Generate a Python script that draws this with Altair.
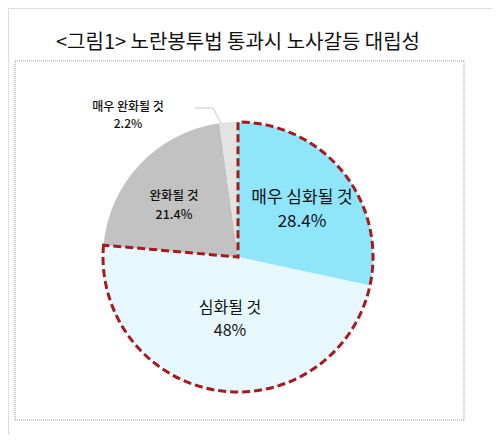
import altair as alt
import pandas as pd

TITLE = "<그림1> 노란봉투법 통과시 노사갈등 대립성"
categories = ["매우 심화될 것", "심화될 것", "완화될 것", "매우 완화될 것"]
values = [28.4, 48.0, 21.4, 2.2]
pct_labels = ["28.4%", "48%", "21.4%", "2.2%"]
colors = ["#8FE6FB", "#E6F8FE", "#C2C2C2", "#E3E3E3"]
groups = ["심화", "심화", "완화", "완화"]

FONT = "Noto Sans CJK KR"
CX, CY, R = 230, 249, 135

df = pd.DataFrame({"cat": categories, "value": values, "order": range(len(values)), "group": groups})
gdf = df.groupby("group", sort=False, as_index=False)["value"].sum()
gdf["order"] = range(len(gdf))

base = alt.Chart(df)
pie = base.mark_arc(radius=R, stroke=None).encode(
    theta=alt.Theta("value:Q", stack=True),
    order=alt.Order("order:Q"),
    color=alt.Color("cat:N", scale=alt.Scale(domain=categories, range=colors), legend=None),
    x=alt.value(CX), y=alt.value(CY),
)

outline = alt.Chart(gdf).mark_arc(radius=R, fillOpacity=0, strokeWidth=3, strokeDash=[8, 4]).encode(
    theta=alt.Theta("value:Q", stack=True),
    order=alt.Order("order:Q"),
    stroke=alt.Stroke("group:N", scale=alt.Scale(domain=["심화", "완화"], range=["#A31A1F", "transparent"]), legend=None),
    x=alt.value(CX), y=alt.value(CY),
)

# label positions (layout), text from data
label_pos = [
    (294, 190, 214, 17, "#111111"),  # 매우 심화될 것
    (222, 300, 323, 16, "#111111"),  # 심화될 것
    (166, 188, 207, 12.5, "#111111"),  # 완화될 것
    (120, 99, 116, 12, "#111111"),  # 매우 완화될 것
]

layers = [pie, outline]
for i, (x, y1, y2, fs, col) in enumerate(label_pos):
    d = pd.DataFrame({"t": [categories[i]], "p": [pct_labels[i]]})
    c = alt.Chart(d)
    weight = 500 if i >= 2 else "normal"
    layers.append(c.mark_text(font=FONT, fontSize=fs, color=col, fontWeight=weight, baseline="middle", align="center").encode(
        text="t:N", x=alt.value(x), y=alt.value(y1)))
    layers.append(c.mark_text(font=FONT, fontSize=fs, color=col, fontWeight=weight, baseline="middle", align="center").encode(
        text="p:N", x=alt.value(x), y=alt.value(y2)))

# leader line for the small slice
lead = pd.DataFrame({"k": [0]})
layers.append(alt.Chart(lead).mark_rule(color="#DADADA", strokeWidth=1.5).encode(
    x=alt.value(187), x2=alt.value(205), y=alt.value(100), y2=alt.value(100)))
layers.append(alt.Chart(lead).mark_rule(color="#DADADA", strokeWidth=1.5).encode(
    x=alt.value(205), x2=alt.value(214), y=alt.value(100), y2=alt.value(117)))

# dotted border
layers.append(alt.Chart(lead).mark_rect(fillOpacity=0, stroke="#999999", strokeWidth=1, strokeDash=[1, 1]).encode(
    x=alt.value(7), x2=alt.value(456), y=alt.value(53), y2=alt.value(412)))

# title
tdf = pd.DataFrame({"t": [TITLE]})
layers.append(alt.Chart(tdf).mark_text(font=FONT, fontSize=20, color="#111111", baseline="middle", align="center").encode(
    text="t:N", x=alt.value(230), y=alt.value(35)))

chart = alt.layer(*layers).resolve_scale(theta="independent", color="independent").properties(
    width=484, height=427, padding=0, autosize=alt.AutoSizeParams(type="none")
).configure_view(stroke=None).configure(background="white")

chart.save("out.html", embed_options={"renderer": "svg", "actions": False})
